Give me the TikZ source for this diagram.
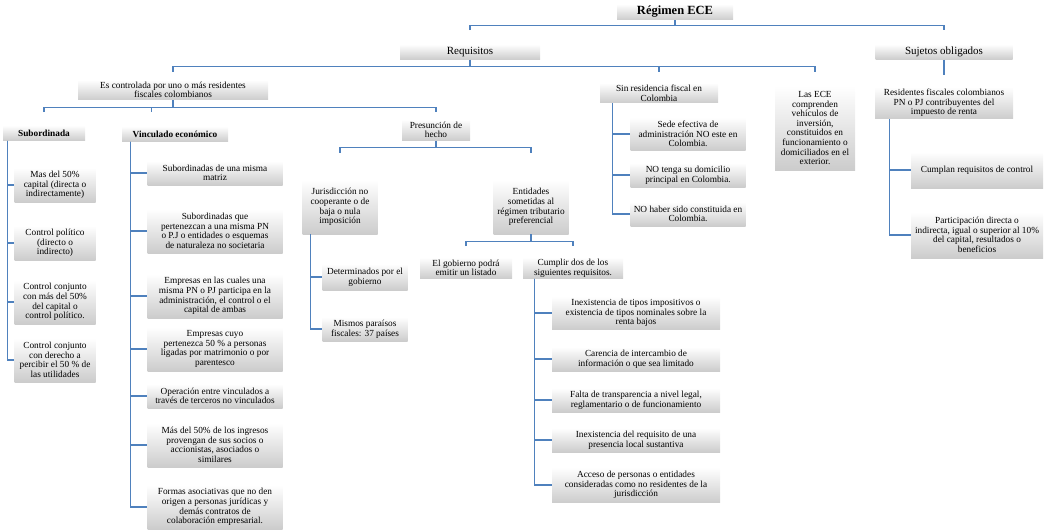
\documentclass[tikz,border=0pt]{standalone}
\usepackage{fontspec}
\setmainfont{Liberation Serif}
\usepackage{tikz}
\usetikzlibrary{shapes, arrows}
\usetikzlibrary{positioning}
\definecolor{linkblue}{RGB}{79,129,189}
\tikzstyle{box} = [rectangle, top color = white, bottom color = black!20,
  inner sep = 1, text centered, align = center, text = black,
  font = \fontsize{9.3}{9.6}\selectfont]
\tikzstyle{head} = [box, font = \fontsize{11}{12}\selectfont]
\tikzstyle{link} = [draw = linkblue, line width = 1.1]

\begin{document}
\begin{tikzpicture}[x = 1pt, y = -1pt, node distance = 0]
  \useasboundingbox (0, 0) rectangle (1046, 532);

  \node [head, font = \bfseries\fontsize{12.5}{14}\selectfont, minimum width = 116,
    minimum height = 16] (box-top) at (675, 12) {Régimen ECE};
  \node [head, minimum width = 140, minimum height = 15] (box-req) at (470, 52) {Requisitos};
  \node [head, minimum width = 137, minimum height = 15] (box-suj) at (944, 52) {Sujetos obligados};

  \node [box, minimum width = 190, minimum height = 20] (box-ctrl) at (173, 90)
    {Es controlada por uno o más residentes\\fiscales colombianos};
  \node [box, minimum width = 118, minimum height = 20] (box-sin) at (659, 93)
    {Sin residencia fiscal en\\Colombia};
  \node [box, minimum width = 80, minimum height = 84] (box-ece) at (815, 128)
    {Las ECE\\comprenden\\vehículos de\\inversión,\\constituidos en\\funcionamiento o\\domiciliados en el\\exterior.};
  \node [box, minimum width = 138, minimum height = 32] (box-res) at (944, 103)
    {Residentes fiscales colombianos\\PN o PJ contribuyentes del\\impuesto de renta};

  \node [box, font = \bfseries\fontsize{9.3}{9.6}\selectfont, minimum width = 82,
    minimum height = 15] (box-sub) at (44, 133) {Subordinada};
  \node [box, font = \bfseries\fontsize{9.3}{9.6}\selectfont, minimum width = 106,
    minimum height = 15] (box-vin) at (175, 134) {Vinculado económico};
  \node [box, minimum width = 68, minimum height = 21] (box-pre) at (436, 130) {Presunción de\\hecho};

  \node [box, minimum width = 81, minimum height = 34] (box-sub-1) at (55, 185)
    {Mas del 50\%\\capital (directa o\\indirectamente)};
  \node [box, minimum width = 81, minimum height = 34] (box-sub-2) at (55, 243)
    {Control político\\(directo o\\indirecto)};
  \node [box, minimum width = 81, minimum height = 44] (box-sub-3) at (55, 302)
    {Control conjunto\\con más del 50\%\\del capital o\\control político.};
  \node [box, minimum width = 81, minimum height = 44] (box-sub-4) at (55, 360)
    {Control conjunto\\con derecho a\\percibir el 50 \% de\\las utilidades};

  \node [box, minimum width = 135, minimum height = 24] (box-vin-1) at (215, 173)
    {Subordinadas de una misma\\matriz};
  \node [box, minimum width = 135, minimum height = 44] (box-vin-2) at (215, 231)
    {Subordinadas que\\pertenezcan a una misma PN\\o P.J o entidades o esquemas\\de naturaleza no societaria};
  \node [box, minimum width = 135, minimum height = 44] (box-vin-3) at (215, 296)
    {Empresas en las cuales una\\misma PN o PJ participa en la\\administración, el control o el\\capital de ambas};
  \node [box, minimum width = 135, minimum height = 44] (box-vin-4) at (215, 349)
    {Empresas cuyo\\pertenezca 50 \% a personas\\ligadas por matrimonio o por\\parentesco};
  \node [box, minimum width = 135, minimum height = 24] (box-vin-5) at (215, 396)
    {Operación entre vinculados a\\través de terceros no vinculados};
  \node [box, minimum width = 135, minimum height = 44] (box-vin-6) at (215, 445)
    {Más del 50\% de los ingresos\\provengan de sus socios o\\accionistas, asociados o\\similares};
  \node [box, minimum width = 135, minimum height = 44] (box-vin-7) at (215, 507)
    {Formas asociativas que no den\\origen a personas jurídicas y\\demás contratos de\\colaboración empresarial.};

  \node [box, minimum width = 75, minimum height = 54] (box-jur) at (340, 207)
    {Jurisdicción no\\cooperante o de\\baja o nula\\imposición};
  \node [box, minimum width = 75, minimum height = 54] (box-ent) at (531, 207)
    {Entidades\\sometidas al\\régimen tributario\\preferencial};
  \node [box, minimum width = 85, minimum height = 26] (box-jur-1) at (365, 277)
    {Determinados por el\\gobierno};
  \node [box, minimum width = 85, minimum height = 24] (box-jur-2) at (365, 329)
    {Mismos paraísos\\fiscales: 37 países};
  \node [box, minimum width = 92, minimum height = 21] (box-gob) at (466, 268)
    {El gobierno podrá\\emitir un listado};
  \node [box, minimum width = 100, minimum height = 21] (box-cum) at (573, 268)
    {Cumplir dos de los\\siguientes requisitos.};

  \node [box, minimum width = 168, minimum height = 33] (box-cum-1) at (636, 313)
    {Inexistencia de tipos impositivos o\\existencia de tipos nominales sobre la\\renta bajos};
  \node [box, minimum width = 168, minimum height = 24] (box-cum-2) at (636, 359)
    {Carencia de intercambio de\\información o que sea limitado};
  \node [box, minimum width = 168, minimum height = 24] (box-cum-3) at (636, 400)
    {Falta de transparencia a nivel legal,\\reglamentario o de funcionamiento};
  \node [box, minimum width = 168, minimum height = 24] (box-cum-4) at (636, 440)
    {Inexistencia del requisito de una\\presencia local sustantiva};
  \node [box, minimum width = 168, minimum height = 35] (box-cum-5) at (636, 485)
    {Acceso de personas o entidades\\consideradas como no residentes de la\\jurisdicción};

  \node [box, minimum width = 115, minimum height = 33] (box-sin-1) at (688, 134)
    {Sede efectiva de\\administración NO este en\\Colombia.};
  \node [box, minimum width = 115, minimum height = 24] (box-sin-2) at (688, 175)
    {NO tenga su domicilio\\principal en Colombia.};
  \node [box, minimum width = 115, minimum height = 24] (box-sin-3) at (688, 214)
    {NO haber sido constituida en\\Colombia.};

  \node [box, minimum width = 132, minimum height = 36] (box-suj-1) at (977, 170)
    {Cumplan requisitos de control};
  \node [box, minimum width = 132, minimum height = 46] (box-suj-2) at (977, 235)
    {Participación directa o\\indirecta, igual o superior al 10\%\\del capital, resultados o\\beneficios};

  \path (box-top.south) ++(0, 5) coordinate (bar-top);
  \draw [link] (box-top.south) -- (bar-top);
  \draw [link] (bar-top -| box-req) +(0, 5) -- (bar-top -| box-req) -- (bar-top -| box-suj) -- +(0, 5);

  \path (box-req.south) ++(0, 7) coordinate (bar-req);
  \draw [link] (box-req.south) -- (bar-req);
  \draw [link] (bar-req -| box-ctrl) +(0, 5) -- (bar-req -| box-ctrl) -- (bar-req -| box-ece) -- +(0, 5);
  \draw [link] (bar-req -| box-sin) -- +(0, 5);
  \draw [link, shorten >= 12] (box-suj.south) -- (box-res.north);

  \path (box-ctrl.south) ++(0, 7) coordinate (bar-ctrl);
  \draw [link] (box-ctrl.south) -- (bar-ctrl);
  \draw [link] (bar-ctrl -| box-sub) +(0, 5) -- (bar-ctrl -| box-sub) -- (bar-ctrl -| box-pre) -- +(0, 5);
  \draw [link] (bar-ctrl -| box-vin.north west) ++(30, 0) -- +(0, 5);

  \path (box-pre.south) ++(0, 7) coordinate (bar-pre);
  \draw [link] (box-pre.south) -- (bar-pre);
  \draw [link] (bar-pre -| box-jur) +(0, 5) -- (bar-pre -| box-jur) -- (bar-pre -| box-ent) -- +(0, 5);

  \path (box-ent.south) ++(0, 7) coordinate (bar-ent);
  \draw [link] (box-ent.south) -- (bar-ent);
  \draw [link] (bar-ent -| box-gob) +(0, 5) -- (bar-ent -| box-gob) -- (bar-ent -| box-cum) -- +(0, 5);

  \coordinate (trunk-sub) at ([xshift = 5]box-sub.south west);
  \coordinate (trunk-vin) at ([xshift = 9]box-vin.south west);
  \coordinate (trunk-jur) at ([xshift = 8]box-jur.south west);
  \coordinate (trunk-cum) at ([xshift = 12]box-cum.south west);
  \coordinate (trunk-sin) at ([xshift = 13]box-sin.south west);
  \coordinate (trunk-res) at ([xshift = 15]box-res.south west);
  \foreach \i in {1, ..., 4} \draw [link] (trunk-sub) |- (box-sub-\i.west);
  \foreach \i in {1, ..., 7} \draw [link] (trunk-vin) |- (box-vin-\i.west);
  \foreach \i in {1, 2} \draw [link] (trunk-jur) |- (box-jur-\i.west);
  \foreach \i in {1, ..., 5} \draw [link] (trunk-cum) |- (box-cum-\i.west);
  \foreach \i in {1, 2, 3} \draw [link] (trunk-sin) |- (box-sin-\i.west);
  \foreach \i in {1, 2} \draw [link] (trunk-res) |- (box-suj-\i.west);
\end{tikzpicture}
\end{document}
